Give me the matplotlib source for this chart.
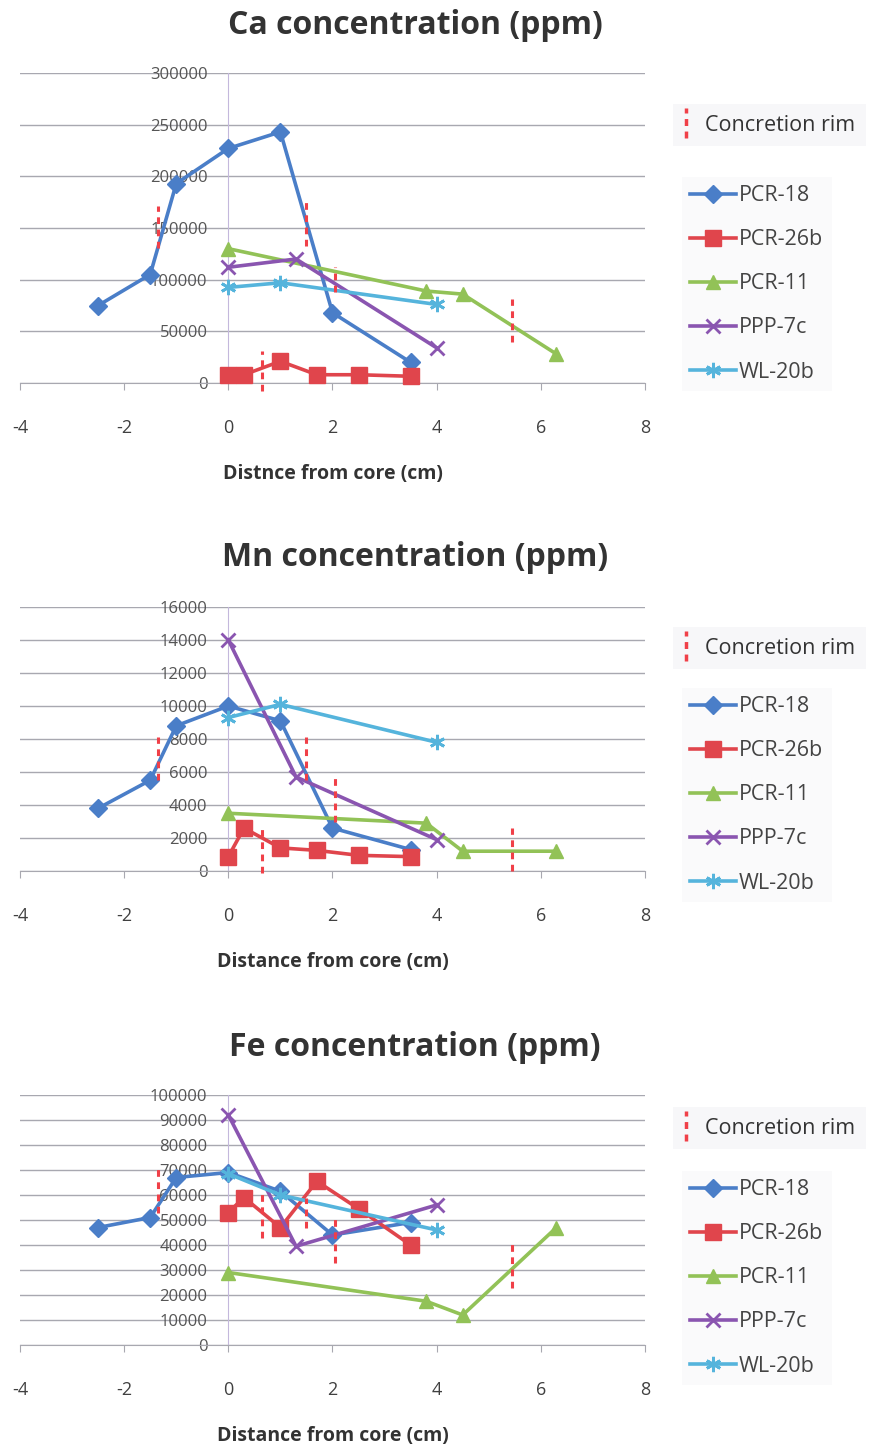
import matplotlib
matplotlib.use('Agg')
import matplotlib.pyplot as plt
from matplotlib.lines import Line2D
from matplotlib.legend_handler import HandlerBase

# distance from core (cm) for each sample
x_pcr18 = [-2.5, -1.5, -1.0, 0.0, 1.0, 2.0, 3.5]
x_pcr26b = [0.0, 0.3, 1.0, 1.7, 2.5, 3.5]
x_pcr11 = [0.0, 3.8, 4.5, 6.3]
x_ppp7c = [0.0, 1.3, 4.0]
x_wl20b = [0.0, 1.0, 4.0]

# Ca (ppm)
ca_pcr18 = [75000, 105000, 193000, 227000, 243000, 68000, 20000]
ca_pcr26b = [8000, 8000, 21000, 8000, 8000, 6500]
ca_pcr11 = [130000, 89000, 86000, 28000]
ca_ppp7c = [112000, 120000, 34000]
ca_wl20b = [92500, 97000, 76000]

# Mn (ppm)
mn_pcr18 = [3800, 5500, 8800, 10000, 9100, 2600, 1300]
mn_pcr26b = [870, 2600, 1400, 1250, 950, 870]
mn_pcr11 = [3500, 2900, 1200, 1200]
mn_ppp7c = [14000, 5700, 1900]
mn_wl20b = [9300, 10100, 7800]

# Fe (ppm)
fe_pcr18 = [47000, 51000, 67000, 69000, 61500, 44000, 49000]
fe_pcr26b = [53000, 59000, 47000, 65500, 54500, 40000]
fe_pcr11 = [29000, 17500, 12000, 47000]
fe_ppp7c = [92000, 39500, 56000]
fe_wl20b = [68500, 60000, 46000]

# concretion rim markers (x, bottom, top of each dashed segment)
rim_x = [-1.35, 0.65, 1.5, 2.05, 5.45]
ca_rim_lo = [131000, -8000, 133000, 88000, 40000]
ca_rim_hi = [171000, 31000, 175000, 112000, 81000]
mn_rim_lo = [5500, -100, 5500, 3000, 0]
mn_rim_hi = [8100, 2600, 8100, 5700, 2600]
fe_rim_lo = [53000, 43000, 47000, 33000, 23000]
fe_rim_hi = [71000, 61000, 59000, 51000, 41000]

names = ['PCR-18', 'PCR-26b', 'PCR-11', 'PPP-7c', 'WL-20b']
xs = [x_pcr18, x_pcr26b, x_pcr11, x_ppp7c, x_wl20b]
colors = ['#4a7ec8', '#e0454c', '#92c257', '#8a55b0', '#55b4dc']
markers = ['D', 's', '^', 'x', (6, 2, 0)]
msizes = [9, 11, 10, 10, 11]
rim_color = '#f04048'

plt.rcParams['font.family'] = ['Open Sans', 'DejaVu Sans']
plt.rcParams['axes.unicode_minus'] = False


class RimHandler(HandlerBase):
    def create_artists(self, legend, orig, xd, yd, w, h, fs, trans):
        x = -xd + 2
        ln = Line2D([x, x], [-yd - h * 0.5, -yd + h * 1.5], color=rim_color,
                    lw=2.5, ls=(0, (2, 1.6)))
        ln.set_transform(trans)
        return [ln]


fig = plt.figure(figsize=(8.7, 14.46), dpi=100)

panels = [
    ('Ca concentration (ppm)', 'Distnce from core (cm)',
     [ca_pcr18, ca_pcr26b, ca_pcr11, ca_ppp7c, ca_wl20b],
     ca_rim_lo, ca_rim_hi, 300000, 50000, [73, 383], 25, [93, 166]),
    ('Mn concentration (ppm)', 'Distance from core (cm)',
     [mn_pcr18, mn_pcr26b, mn_pcr11, mn_ppp7c, mn_wl20b],
     mn_rim_lo, mn_rim_hi, 16000, 2000, [607, 871], 557, [616, 677]),
    ('Fe concentration (ppm)', 'Distance from core (cm)',
     [fe_pcr18, fe_pcr26b, fe_pcr11, fe_ppp7c, fe_wl20b],
     fe_rim_lo, fe_rim_hi, 100000, 10000, [1095, 1345], 1048, [1096, 1160]),
]

W, H = 870.0, 1446.0
for title, xlabel, ys, rlo, rhi, ymax, ystep, (ptop, pbot), ty, (lg1, lg2) in panels:
    ax = fig.add_axes([20 / W, 1 - pbot / H, 625 / W, (pbot - ptop) / H])
    for x, y, c, m, ms, n in zip(xs, ys, colors, markers, msizes, names):
        ax.plot(x, y, color=c, lw=2.6, marker=m, ms=ms, mfc=c, mec=c,
                mew=2 if m in ('x', (6, 2, 0)) else 1, label=n, clip_on=False, zorder=3)
    ax.vlines(rim_x, rlo, rhi, colors=rim_color, linestyles=(0, (2.2, 1.8)),
              lw=2.2, zorder=4, clip_on=False)

    ax.set_xlim(-4, 8)
    ax.set_ylim(0, ymax)
    ax.set_xticks(range(-4, 9, 2))
    ax.set_yticks(range(0, ymax + 1, ystep))
    ax.yaxis.grid(True, color='#a8a8b0', lw=1.0)
    ax.set_axisbelow(True)
    for s in ('top', 'right'):
        ax.spines[s].set_visible(False)
    ax.spines['left'].set_position(('data', 0))
    ax.spines['left'].set_color('#c4b8dc')
    ax.spines['bottom'].set_color('#a8a8b0')
    ax.tick_params(axis='y', length=0, pad=15, labelsize=12, labelcolor='#555555')
    ax.tick_params(axis='x', length=5, direction='out', color='#a8a8b0', pad=21,
                   labelsize=13, labelcolor='#404040')
    ax.set_xlabel(xlabel, fontsize=14, fontweight='bold', color='#333333', labelpad=19)

    fig.text(415 / W, 1 - ty / H, title, ha='center', va='center',
             fontsize=23, fontweight='bold', color='#333333')

    rim_handle = Line2D([], [])
    leg1 = ax.legend([rim_handle], ['Concretion rim'], handler_map={Line2D: RimHandler()},
                     loc='upper left', bbox_to_anchor=(662 / W, 1 - lg1 / H),
                     bbox_transform=fig.transFigure, fontsize=15.5, frameon=True,
                     facecolor='#f6f6f8', edgecolor='none', fancybox=False,
                     handlelength=0.5, handletextpad=0.5, borderpad=0.5)
    leg1.get_texts()[0].set_color('#333333')
    ax.add_artist(leg1)
    leg2 = ax.legend(loc='upper left', bbox_to_anchor=(671 / W, 1 - lg2 / H),
                     bbox_transform=fig.transFigure, fontsize=15.5, frameon=True,
                     facecolor='#f9f9fb', edgecolor='none', fancybox=False,
                     handlelength=2.1, handletextpad=0.15, labelspacing=1.07,
                     borderpad=0.4)
    for t in leg2.get_texts():
        t.set_color('#444444')

fig.savefig('out.png', dpi=100)
